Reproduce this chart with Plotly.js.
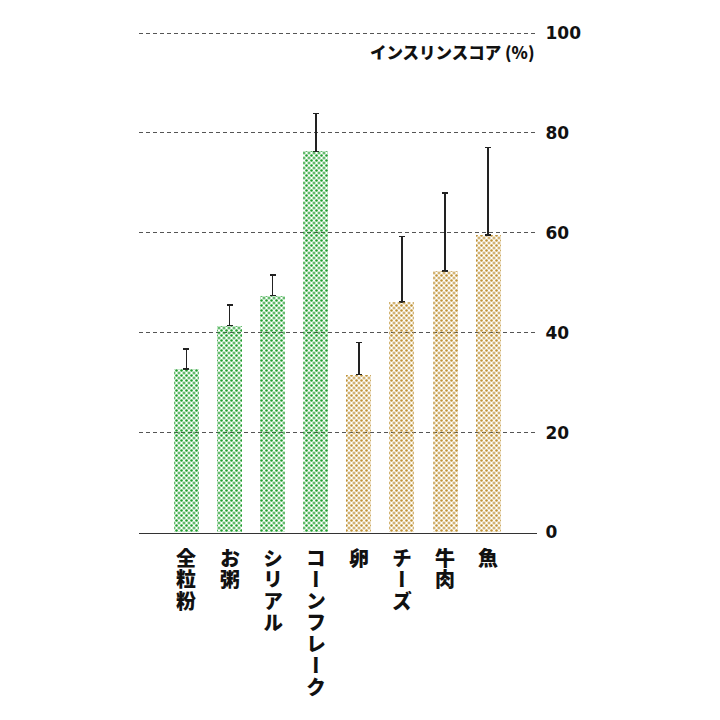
<!DOCTYPE html>
<html><head><meta charset="utf-8">
<script src="https://cdn.plot.ly/plotly-3.0.1.min.js"></script>
<style>html,body{margin:0;padding:0;background:#fff}#chart{width:720px;height:720px}</style>
</head><body><div id="chart"></div>
<script>
// ---- data ----
const categories = ['全粒粉', 'お粥', 'シリアル', 'コーンフレーク', '卵', 'チーズ', '牛肉', '魚'];
const groups = ['grain', 'grain', 'grain', 'grain', 'protein', 'protein', 'protein', 'protein'];
const insulinScore = [32.7, 41.4, 47.4, 76.3, 31.6, 46.1, 52.4, 59.6];
const errorUp = [4.0, 4.1, 4.2, 7.6, 6.4, 13.2, 15.6, 17.5];
const errorDown = [0, 0, 0, 0, 0, 0, 0, 0];
const yTicks = [0, 20, 40, 60, 80, 100];
const titleText = 'インスリンスコア (%)';

// ---- styling ----
const groupColor = {grain: '#1f9e2c', protein: '#bf9236'};
const L = 139, T = 28, plotW = 398, plotH = 505, d = 2.5;   // d = half pattern cell (stagger)
const patSize = 5;
const xRange = [-1.1, 8.12];
const yRange = [0, 101];
const kx = plotW / (xRange[1] - xRange[0]);
const ky = plotH / (yRange[1] - yRange[0]);
const barColors = groups.map(g => groupColor[g]);

const pattern = {shape: '.', fgcolor: barColors, bgcolor: 'rgba(255,255,255,0)', size: patSize, solidity: 0.2, fillmode: 'replace'};

const traceMain = {
  type: 'bar', x: categories, y: insulinScore, xaxis: 'x', yaxis: 'y',
  width: 0.58, showlegend: false, hoverinfo: 'x+y',
  marker: {color: 'rgba(255,255,255,0)', line: {width: 0}, pattern: pattern},
  error_y: {type: 'data', symmetric: false, array: errorUp, arrayminus: errorDown,
            color: '#222', thickness: 1.5, width: 3}
};
const traceStagger = {
  type: 'bar', x: categories, y: insulinScore, xaxis: 'x2', yaxis: 'y2',
  width: 0.58, showlegend: false, hoverinfo: 'skip',
  marker: {color: 'rgba(255,255,255,0)', line: {width: 0}, pattern: pattern}
};

// vertical (tategaki) category labels: one text per category, one character per line
const annotations = categories.map((name, i) => ({
  xref: 'x', yref: 'y', x: i, y: 0, xanchor: 'center', yanchor: 'top',
  yshift: -8, showarrow: false, align: 'center',
  text: Array.from(name).map(ch =>
    '<span style="font-size:20px;font-feature-settings:\'vert\' 1">' + ch + '</span>').join('<br>'),
  font: {family: 'Noto Sans CJK JP', size: 16.5, weight: 900, color: '#111'}
}));

const totalW = plotW + d, totalH = plotH + d;
const layout = {
  width: 720, height: 720,
  margin: {l: L, t: T, r: 720 - L - totalW, b: 720 - T - totalH, pad: 0},
  paper_bgcolor: '#fff', plot_bgcolor: 'rgba(0,0,0,0)',
  bargap: 0, barmode: 'overlay',
  title: {
    text: titleText, xref: 'paper', yref: 'paper',
    x: (535 - L) / totalW, xanchor: 'right', y: (T + totalH - 53) / totalH, yanchor: 'middle',
    font: {family: 'Noto Sans CJK JP', size: 16.5, weight: 900, color: '#111'}
  },
  xaxis: {
    domain: [0, plotW / totalW], range: xRange, type: 'category',
    categoryorder: 'array', categoryarray: categories,
    showticklabels: false, ticks: '', showgrid: false, zeroline: false,
    showline: true, linecolor: '#333', linewidth: 1.5, fixedrange: true
  },
  yaxis: {
    domain: [d / totalH, 1], range: yRange, side: 'right',
    tickvals: yTicks, ticks: '', ticklabelstandoff: 8,
    showgrid: true, gridcolor: '#555', gridwidth: 1, griddash: '4px,3px',
    zeroline: false, showline: false, fixedrange: true,
    tickfont: {family: 'DejaVu Sans', size: 17, weight: 'bold', color: '#111'}
  },
  xaxis2: {
    domain: [d / totalW, 1], range: [xRange[0] + d / kx, xRange[1] + d / kx], type: 'category',
    categoryorder: 'array', categoryarray: categories,
    anchor: 'y2', visible: false, fixedrange: true
  },
  yaxis2: {
    domain: [0, plotH / totalH], range: [yRange[0] - d / ky, yRange[1] - d / ky],
    anchor: 'x2', visible: false, fixedrange: true
  },
  annotations: annotations
};

Plotly.newPlot('chart', [traceMain, traceStagger], layout, {displayModeBar: false, staticPlot: true});
</script>
</body></html>
